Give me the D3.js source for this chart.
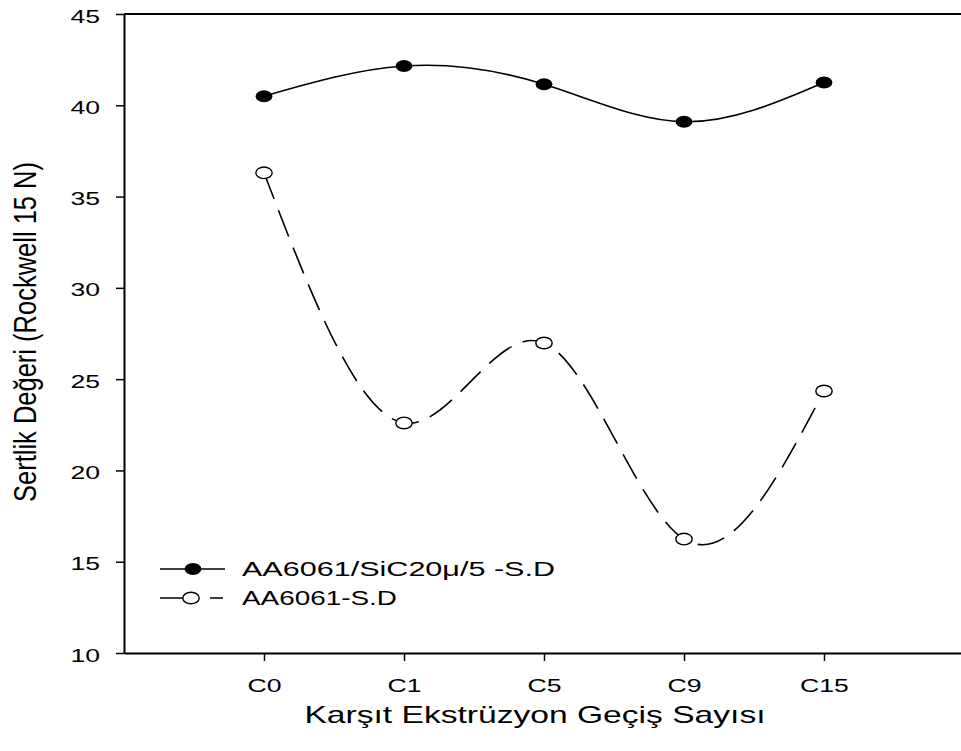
<!DOCTYPE html>
<meta charset="utf-8">
<script src="https://d3js.org/d3.v7.min.js"></script>
<style>
  body { margin: 0; background: #fff; }
  text { font-family: "Liberation Sans", Arial, sans-serif; fill: #000; }
</style>
<svg id="chart" width="961" height="751"></svg>
<script>
  const categories = ["C0", "C1", "C5", "C9", "C15"]
  const composite = [40.5, 42.15, 41.15, 39.1, 41.25]   // AA6061/SiC20µ/5 -S.D
  const plain = [36.3, 22.6, 26.98, 16.24, 24.35]       // AA6061-S.D
  const yTicks = [10, 15, 20, 25, 30, 35, 40, 45]
  const seriesNames = ["AA6061/SiC20\u03bc/5 -S.D", "AA6061-S.D"]

  const svg = d3.select("#chart")
  const stretch = 1.4   // the original picture is widened horizontally
  const plotLeft = 124, plotRight = 964, plotTop = 14, plotBottom = 653

  const x = d3.scaleLinear().domain([0, categories.length + 1]).range([plotLeft, plotRight])
  const y = d3.scaleLinear().domain([10, 45]).range([plotBottom, plotTop])

  svg.append("rect").attr("width", 961).attr("height", 751).attr("fill", "#fff")

  // axes
  const gy = svg.append("g").attr("transform", "translate(" + plotLeft + ",0)")
    .call(d3.axisLeft(y).tickValues(yTicks).tickSize(8).tickSizeOuter(0))
  gy.selectAll(".tick text")
    .attr("x", -24 / stretch).attr("dy", null).attr("y", 8)
    .attr("transform", "scale(" + stretch + ",1)")
    .style("font-size", "19px")

  const gx = svg.append("g").attr("transform", "translate(0," + plotBottom + ")")
    .call(d3.axisBottom(x).tickValues(d3.range(1, categories.length + 1))
      .tickFormat(i => categories[i - 1]).tickSize(8).tickSizeOuter(0))
  gx.selectAll(".tick text")
    .attr("y", 39).attr("dy", null)
    .attr("transform", "scale(" + stretch + ",1)")
    .style("font-size", "19px")

  svg.selectAll(".domain").attr("stroke-width", 2)
  svg.selectAll(".tick line").attr("stroke-width", 1.5)

  // top frame line
  svg.append("line")
    .attr("x1", plotLeft).attr("x2", 961).attr("y1", plotTop).attr("y2", plotTop)
    .attr("stroke", "#000").attr("stroke-width", 2)

  // titles
  svg.append("text")
    .attr("transform", "translate(535,723) scale(" + stretch + ",1)")
    .attr("text-anchor", "middle")
    .style("font-size", "24px")
    .text("Karşıt Ekstrüzyon Geçiş Sayısı")

  svg.append("text")
    .attr("transform", "translate(36,332) scale(" + stretch + ",1) rotate(-90)")
    .attr("text-anchor", "middle")
    .attr("textLength", 340).attr("lengthAdjust", "spacingAndGlyphs")
    .style("font-size", "23px")
    .text("Sertlik Değeri (Rockwell 15 N)")

  // curves
  const line = d3.line()
    .x((d, i) => x(i + 1))
    .y(d => y(d))
    .curve(d3.curveNatural)

  svg.append("path").datum(composite)
    .attr("fill", "none").attr("stroke", "#000").attr("stroke-width", 1.6)
    .attr("d", line)

  svg.append("path").datum(plain)
    .attr("fill", "none").attr("stroke", "#000").attr("stroke-width", 1.6)
    .attr("stroke-dasharray", "28,12")
    .attr("d", line)

  // markers
  svg.selectAll(".dot-c").data(composite).enter()
    .append("ellipse")
    .attr("cx", (d, i) => x(i + 1)).attr("cy", d => y(d))
    .attr("rx", 8.4).attr("ry", 6)
    .attr("fill", "#000")

  svg.selectAll(".dot-p").data(plain).enter()
    .append("ellipse")
    .attr("cx", (d, i) => x(i + 1)).attr("cy", d => y(d))
    .attr("rx", 8.2).attr("ry", 5.8)
    .attr("fill", "#fff").attr("stroke", "#000").attr("stroke-width", 1.4)

  // legend
  const legend = svg.append("g")
  const rows = [569, 598]
  const legendWidths = [313, 155]
  legend.append("line")
    .attr("x1", 160).attr("x2", 225).attr("y1", rows[0]).attr("y2", rows[0])
    .attr("stroke", "#000").attr("stroke-width", 1.6)
  legend.append("ellipse")
    .attr("cx", 193).attr("cy", rows[0]).attr("rx", 8.4).attr("ry", 6).attr("fill", "#000")
  legend.append("line")
    .attr("x1", 160).attr("x2", 223).attr("y1", rows[1]).attr("y2", rows[1])
    .attr("stroke", "#000").attr("stroke-width", 1.6)
    .attr("stroke-dasharray", "24,26")
  legend.append("ellipse")
    .attr("cx", 191).attr("cy", rows[1]).attr("rx", 8.2).attr("ry", 5.8)
    .attr("fill", "#fff").attr("stroke", "#000").attr("stroke-width", 1.4)

  legend.selectAll("text").data(seriesNames).enter()
    .append("text")
    .attr("transform", (d, i) => "translate(242," + (rows[i] + 7) + ") scale(" + stretch + ",1)")
    .attr("textLength", (d, i) => legendWidths[i] / stretch)
    .attr("lengthAdjust", "spacingAndGlyphs")
    .style("font-size", "19.5px")
    .text(d => d)
</script>
